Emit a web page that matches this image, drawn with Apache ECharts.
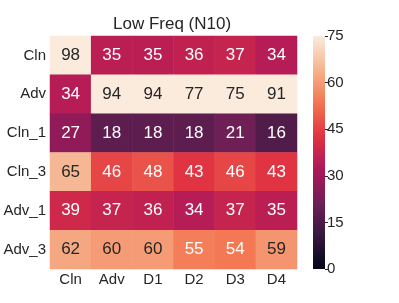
<!DOCTYPE html>
<html><head><meta charset="utf-8">
<script src="https://cdn.jsdelivr.net/npm/echarts@6/dist/echarts.min.js"></script>
<style>html,body{margin:0;padding:0;background:#fff}#c{width:399px;height:303px}</style>
</head><body><div id="c"></div>
<script>
const xCats = ['Cln','Adv','D1','D2','D3','D4'];
const yCats = ['Cln','Adv','Cln_1','Cln_3','Adv_1','Adv_3'];
const rowCln   = [98,35,35,36,37,34];
const rowAdv   = [34,94,94,77,75,91];
const rowCln1  = [27,18,18,18,21,16];
const rowCln3  = [65,46,48,43,46,43];
const rowAdv1  = [39,37,36,34,37,35];
const rowAdv3  = [62,60,60,55,54,59];
const rows = [rowCln,rowAdv,rowCln1,rowCln3,rowAdv1,rowAdv3];
const cbTicks = [0,15,30,45,60,75];
const vMin = 0, vMax = 75;

const stops = [
 [0,'#03051a'],[1/7,'#35193e'],[2/7,'#701f57'],[3/7,'#ad1759'],
 [4/7,'#e13342'],[5/7,'#f37651'],[6/7,'#f6b48f'],[1,'#faebdd']];

const data = [];
rows.forEach((r,yi)=>r.forEach((v,xi)=>data.push([xi,yi,v])));

const font = 'Liberation Sans, Arial, sans-serif';
const chart = echarts.init(document.getElementById('c'));
chart.setOption({
  animation:false,
  title:{text:'Low Freq (N10)',left:108,top:11,textAlign:'left',
    textStyle:{fontFamily:font,fontSize:17,fontWeight:'normal',color:'#262626'}},
  grid:[{left:50,top:36,width:247,height:233},
        {left:313,top:36,width:12,height:233}],
  xAxis:[{type:'category',data:xCats,gridIndex:0,axisLine:{show:false},axisTick:{show:false},
    axisLabel:{fontFamily:font,fontSize:15,color:'#262626',margin:3},splitLine:{show:false}},
    {type:'category',data:['c'],gridIndex:1,show:false}],
  yAxis:[{type:'category',data:yCats,inverse:true,gridIndex:0,axisLine:{show:false},axisTick:{show:false},
    axisLabel:{fontFamily:font,fontSize:15,color:'#262626',margin:4},splitLine:{show:false}},
    {type:'value',gridIndex:1,min:vMin,max:vMax,interval:15,position:'right',
     axisLine:{show:false},axisTick:{show:true,length:3,lineStyle:{color:'#262626'}},
     splitLine:{show:false},
     axisLabel:{fontFamily:font,fontSize:15,color:'#262626',margin:2,
       formatter:v=>cbTicks.includes(v)?String(v):''}}],
  visualMap:{show:false,type:'continuous',min:vMin,max:vMax,dimension:2,seriesIndex:0,
    inRange:{color:stops.map(s=>s[1])}},
  series:[{type:'heatmap',xAxisIndex:0,yAxisIndex:0,
    data:data.map(d=>({value:d,label:{color:d[2]>=57?'#262626':'#ffffff'}})),
    label:{show:true,fontFamily:font,fontSize:17,formatter:p=>String(p.value[2])},
    itemStyle:{borderWidth:0},
    emphasis:{disabled:true}},
   {type:'bar',xAxisIndex:1,yAxisIndex:1,data:[vMax],barWidth:'100%',silent:true,
    itemStyle:{color:new echarts.graphic.LinearGradient(0,1,0,0,
      stops.map(s=>({offset:s[0],color:s[1]})))}}]
});
</script></body></html>
